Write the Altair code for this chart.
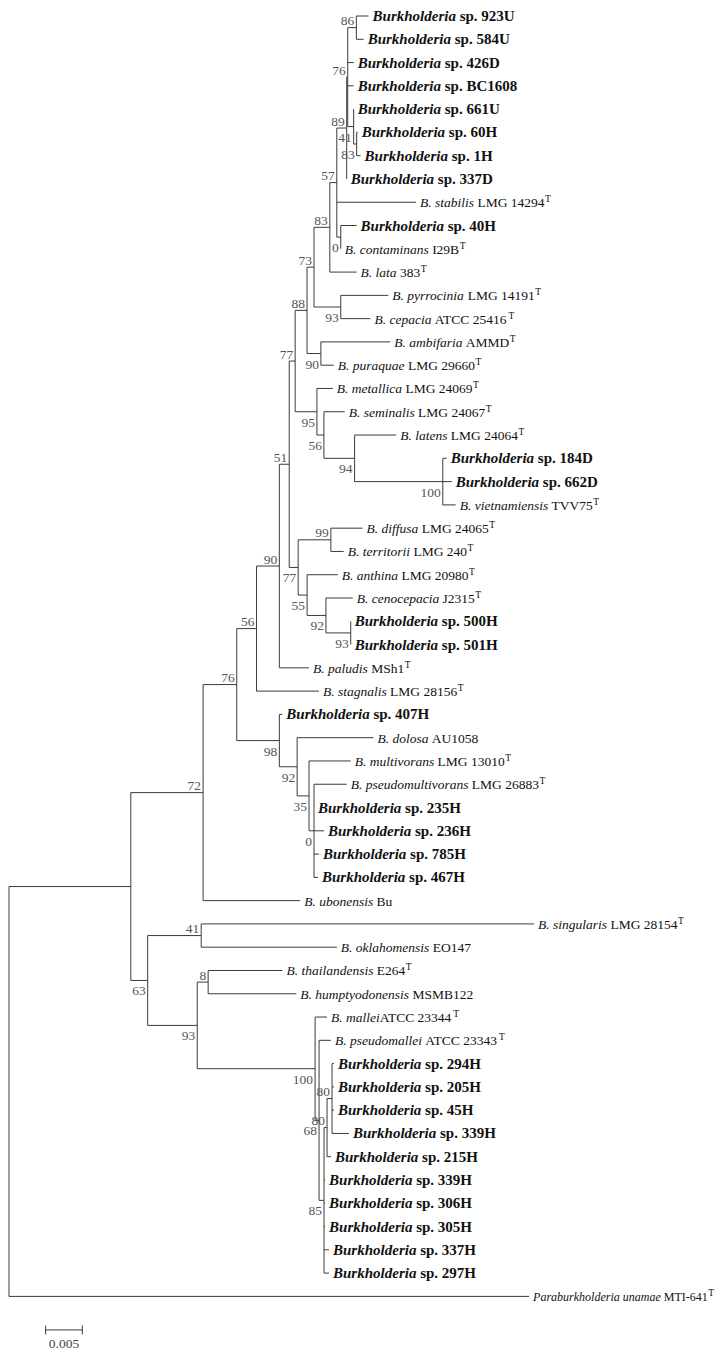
import altair as alt
import pandas as pd

# ------------------------------------------------------------------ data
# leaf labels: italic part, remainder (leading space = word gap), type strain flag
LEAF_ITALIC = [
    "Burkholderia", "Burkholderia", "Burkholderia", "Burkholderia", "Burkholderia",
    "Burkholderia", "Burkholderia", "Burkholderia", "B. stabilis", "Burkholderia",
    "B. contaminans", "B. lata", "B. pyrrocinia", "B. cepacia", "B. ambifaria",
    "B. puraquae", "B. metallica", "B. seminalis", "B. latens", "Burkholderia",
    "Burkholderia", "B. vietnamiensis", "B. diffusa", "B. territorii", "B. anthina",
    "B. cenocepacia", "Burkholderia", "Burkholderia", "B. paludis", "B. stagnalis",
    "Burkholderia", "B. dolosa", "B. multivorans", "B. pseudomultivorans", "Burkholderia",
    "Burkholderia", "Burkholderia", "Burkholderia", "B. ubonensis", "B. singularis",
    "B. oklahomensis", "B. thailandensis", "B. humptyodonensis", "B. mallei", "B. pseudomallei",
    "Burkholderia", "Burkholderia", "Burkholderia", "Burkholderia", "Burkholderia",
    "Burkholderia", "Burkholderia", "Burkholderia", "Burkholderia", "Burkholderia",
    "Paraburkholderia unamae",
]
LEAF_REST = [
    " sp. 923U", " sp. 584U", " sp. 426D", " sp. BC1608", " sp. 661U",
    " sp. 60H", " sp. 1H", " sp. 337D", " LMG 14294", " sp. 40H",
    " I29B", " 383", " LMG 14191", " ATCC 25416", " AMMD",
    " LMG 29660", " LMG 24069", " LMG 24067", " LMG 24064", " sp. 184D",
    " sp. 662D", " TVV75", " LMG 24065", " LMG 240", " LMG 20980",
    " J2315", " sp. 500H", " sp. 501H", " MSh1", " LMG 28156",
    " sp. 407H", " AU1058", " LMG 13010", " LMG 26883", " sp. 235H",
    " sp. 236H", " sp. 785H", " sp. 467H", " Bu", " LMG 28154",
    " EO147", " E264", " MSMB122", "ATCC 23344", " ATCC 23343",
    " sp. 294H", " sp. 205H", " sp. 45H", " sp. 339H", " sp. 215H",
    " sp. 339H", " sp. 306H", " sp. 305H", " sp. 337H", " sp. 297H",
    " MTI-641",
]
LEAF_TYPE_STRAIN = [
    0, 0, 0, 0, 0, 0, 0, 0, 1, 0,
    1, 1, 1, 1, 1, 1, 1, 1, 1, 0,
    0, 1, 1, 1, 1, 1, 0, 0, 1, 1,
    0, 0, 1, 1, 0, 0, 0, 0, 0, 1,
    0, 1, 0, 1, 1, 0, 0, 0, 0, 0,
    0, 0, 0, 0, 0, 1,
]
LEAF_PARENT = [
    "n86", "n86", "n76b", "n76b", "n41", "n83b", "n83b", "n89",
    "n57", "n0a", "n0a", "n83a", "n93a", "n93a", "n90b", "n90b",
    "n95", "n56b", "n94", "n100a", "n100a", "n100a", "n99", "n99",
    "n55", "n92a", "n93b", "n93b", "n90", "n56", "n98", "n92b",
    "n35", "n0b", "n0b", "n0b", "n0b", "n0b", "n72", "n41b",
    "n41b", "n8", "n8", "n100b", "n68", "n80a", "n80a", "n80a",
    "n80a", "n80b", "n85", "n85", "n85", "n85", "n85", "root",
]
LEAF_BRANCH = [
    0.00166, 0.00099, 0.00081, 0.00081, 0.0, 0.00014, 0.00054, 0.0,
    0.01081, 0.00216, 0.0, 0.00365, 0.00649, 0.00405, 0.00946, 0.00176,
    0.00216, 0.00284, 0.00568, 0.00054, 0.00122, 0.00176, 0.00432, 0.00176,
    0.00419, 0.00365, 0.0, 0.0, 0.00405, 0.00851, 0.00041, 0.01041,
    0.00568, 0.00446, 0.0, 0.00135, 0.00068, 0.00054, 0.01324, 0.04541,
    0.01851, 0.01014, 0.01203, 0.00162, 0.00162, 0.00027, 0.00027, 0.00027,
    0.00230, 0.00054, 0.00014, 0.00014, 0.00014, 0.00068, 0.00068, 0.07095,
]

NODE_ID = [
    "root", "A", "n72", "n76", "n56", "n90", "n51", "n77u", "n88", "n73",
    "n83a", "n57", "n89", "n76b", "n86", "n41", "n83b", "n0a", "n93a", "n90b",
    "n95", "n56b", "n94", "n100a", "n77l", "n99", "n55", "n92a", "n93b", "n98",
    "n92b", "n35", "n0b", "n63", "n41b", "n93c", "n8", "n100b", "n68", "n85",
    "n80b", "n80a",
]
NODE_PARENT = [
    "", "root", "A", "n72", "n76", "n56", "n90", "n51", "n77u", "n88",
    "n73", "n83a", "n57", "n89", "n76b", "n76b", "n41", "n57", "n73", "n88",
    "n77u", "n95", "n56b", "n94", "n51", "n77l", "n77l", "n55", "n92a", "n76",
    "n98", "n92b", "n35", "A", "n63", "n63", "n93c", "n93c", "n100b", "n68",
    "n85", "n80b",
]
NODE_BRANCH = [
    0.0, 0.01662, 0.00986, 0.00459, 0.00270, 0.00311, 0.00135, 0.00081, 0.00162, 0.00095,
    0.00216, 0.00095, 0.00135, 0.00014, 0.00118, 0.00081, 0.00041, 0.00054, 0.00365, 0.00189,
    0.00297, 0.00095, 0.00419, 0.01203, 0.00122, 0.00446, 0.00122, 0.00257, 0.00338, 0.00581,
    0.00243, 0.00162, 0.00068, 0.00230, 0.00730, 0.00676, 0.00149, 0.01608, 0.00054, 0.00068,
    0.00041, 0.00068,
]
NODE_SUPPORT = [
    "", "", "72", "76", "56", "90", "51", "77", "88", "73",
    "83", "57", "89", "76", "86", "41", "83", "0", "93", "90",
    "95", "56", "94", "100", "77", "99", "55", "92", "93", "98",
    "92", "35", "0", "63", "41", "93", "8", "100", "68", "85",
    "80", "80",
]

SCALE_BAR = 0.005
SCALE_LABEL = "0.005"

# ------------------------------------------------------------------ layout constants
W, H = 708, 1343
K = 7330.0            # pixels per substitution unit
TOP_PX, ROW_PX = 8.0, 23.28
FONT = "Liberation Serif"
LINE = "#3a3a3a"

# ------------------------------------------------------------------ tree geometry
depth = {}
for nid, par, bl in zip(NODE_ID, NODE_PARENT, NODE_BRANCH):
    depth[nid] = 0.0 if par == "" else depth[par] + bl
leaf_depth = [depth[p] + b for p, b in zip(LEAF_PARENT, LEAF_BRANCH)]

children = {n: [] for n in NODE_ID}
for i, p in enumerate(LEAF_PARENT):
    children[p].append(("leaf", i))
for n, p in zip(NODE_ID, NODE_PARENT):
    if p:
        children[p].append(("node", n))


def span(item):
    kind, key = item
    if kind == "leaf":
        return (key, key)
    s = [span(c) for c in children[key]]
    return (min(a for a, _ in s), max(b for _, b in s))


for n in children:
    children[n].sort(key=lambda it: span(it)[0])

ypos = {}


def y_of(item):
    kind, key = item
    if kind == "leaf":
        return float(key)
    if key not in ypos:
        ch = children[key]
        ypos[key] = (y_of(ch[0]) + y_of(ch[-1])) / 2.0
    return ypos[key]


for n in NODE_ID:
    y_of(("node", n))

segs = []
for n, p in zip(NODE_ID, NODE_PARENT):
    ch = children[n]
    segs.append(dict(x=depth[n], x2=depth[n], y=y_of(ch[0]), y2=y_of(ch[-1])))
    if p:
        segs.append(dict(x=depth[p], x2=depth[n], y=ypos[n], y2=ypos[n]))
for i, p in enumerate(LEAF_PARENT):
    segs.append(dict(x=depth[p], x2=leaf_depth[i], y=float(i), y2=float(i)))
seg_df = pd.DataFrame(segs)

sup = []
for n, p, s in zip(NODE_ID, NODE_PARENT, NODE_SUPPORT):
    if s and p:
        upper = children[p][0] == ("node", n)
        sup.append(dict(x=depth[n], y=ypos[n], t=s, pos="above" if upper else "below"))
sup_df = pd.DataFrame(sup)

# ------------------------------------------------------------------ label pieces
R = {' ': 250, '.': 250, '-': 333, 'A': 722, 'B': 667, 'C': 667, 'D': 722, 'E': 611,
     'G': 722, 'H': 722, 'I': 333, 'J': 389, 'L': 611, 'M': 889, 'O': 722, 'S': 556,
     'T': 611, 'U': 722, 'V': 722, 'h': 500, 'u': 500}
I = {' ': 250, '.': 250, 'B': 611, 'P': 611, 'a': 500, 'b': 500, 'c': 444, 'd': 500,
     'e': 444, 'f': 278, 'g': 500, 'h': 500, 'i': 278, 'j': 278, 'k': 444, 'l': 278,
     'm': 722, 'n': 500, 'o': 500, 'p': 500, 'q': 500, 'r': 389, 's': 389, 't': 278,
     'u': 500, 'v': 444, 'w': 667, 'x': 444, 'y': 444, 'z': 389}
B = {' ': 250, '.': 250, 's': 389, 'p': 556, 'B': 667, 'C': 722, 'D': 722, 'H': 778, 'U': 722}
BI = {'B': 667, 'u': 556, 'r': 389, 'k': 500, 'h': 556, 'o': 500, 'l': 278, 'd': 500,
      'e': 444, 'i': 278, 'a': 500}


def tw(s, table, size):
    return sum(table.get(c, 500) for c in s) * size / 1000.0


parts = []
n_leaf = len(LEAF_ITALIC)
for i in range(n_leaf):
    iso = LEAF_ITALIC[i] == "Burkholderia"
    outgroup = i == n_leaf - 1
    fs = 15.0 if iso else (12.0 if outgroup else 13.5)
    ta, tb = (BI, B) if iso else (I, R)
    sa, sb = ("bi", "b") if iso else ("i", "r")
    px = 4.0
    parts.append(dict(x=leaf_depth[i] + px / K, y=float(i), t=LEAF_ITALIC[i], st=sa, fs=fs))
    px += tw(LEAF_ITALIC[i], ta, fs)
    rest = LEAF_REST[i]
    if rest.startswith(" "):
        px += tw(" ", tb, fs)
    rest = rest.strip()
    parts.append(dict(x=leaf_depth[i] + px / K, y=float(i), t=rest, st=sb, fs=fs))
    px += tw(rest, tb, fs)
    if LEAF_TYPE_STRAIN[i]:
        parts.append(dict(x=leaf_depth[i] + (px + 0.5) / K, y=float(i), t="T", st="sup", fs=9.5))
lab_df = pd.DataFrame(parts)

# ------------------------------------------------------------------ scales
xs = alt.Scale(domain=[-1.0 / K, (W - 1.0) / K], nice=False, zero=False)
y0 = -TOP_PX / ROW_PX
ys = alt.Scale(domain=[y0, y0 + H / ROW_PX], nice=False, zero=False, reverse=True)

X = lambda f: alt.X(f, type="quantitative", scale=xs, axis=None)
Y = lambda f: alt.Y(f, type="quantitative", scale=ys, axis=None)

tree = alt.Chart(seg_df).mark_rule(color=LINE, strokeWidth=1).encode(
    x=X("x"), x2="x2", y=Y("y"), y2="y2")

sup_layers = []
for pos, dy in (("above", -6.5), ("below", 11)):
    sup_layers.append(
        alt.Chart(sup_df).transform_filter(alt.datum.pos == pos)
        .mark_text(align="right", baseline="middle", dx=-2, dy=dy, font=FONT,
                   fontSize=13.5, color="#555555")
        .encode(x=X("x"), y=Y("y"), text="t:N"))

style = {
    "bi": dict(fontStyle="italic", fontWeight="bold", dy=5),
    "b": dict(fontWeight="bold", dy=5),
    "i": dict(fontStyle="italic", dy=5),
    "r": dict(dy=5),
    "sup": dict(dy=0),
}
lab_layers = []
for st, kw in style.items():
    lab_layers.append(
        alt.Chart(lab_df).transform_filter(alt.datum.st == st)
        .mark_text(align="left", baseline="alphabetic", font=FONT, color="#111111", **kw)
        .encode(x=X("x"), y=Y("y"), text="t:N", size=alt.Size("fs:Q", scale=None)))

# scale bar (0.005 substitutions), placed below the last leaf
bar_row = n_leaf - 1 + 1.44
tick = 4.5 / ROW_PX
bar_df = pd.DataFrame([
    dict(x=SCALE_BAR, x2=2 * SCALE_BAR, y=bar_row, y2=bar_row),
    dict(x=SCALE_BAR, x2=SCALE_BAR, y=bar_row - tick, y2=bar_row + tick),
    dict(x=2 * SCALE_BAR, x2=2 * SCALE_BAR, y=bar_row - tick, y2=bar_row + tick),
])
bar = alt.Chart(bar_df).mark_rule(color=LINE, strokeWidth=1).encode(
    x=X("x"), x2="x2", y=Y("y"), y2="y2")
bar_txt = alt.Chart(pd.DataFrame([dict(x=1.5 * SCALE_BAR, y=n_leaf - 1 + 2.03, t=SCALE_LABEL)])).mark_text(
    align="center", baseline="middle", font=FONT, fontSize=13.5, color="#444444"
).encode(x=X("x"), y=Y("y"), text="t:N")

chart = alt.layer(tree, *sup_layers, *lab_layers, bar, bar_txt).properties(
    width=W, height=H, padding=0, autosize=alt.AutoSizeParams(type="none"),
    view=alt.ViewBackground(stroke="transparent", strokeWidth=0),
).configure_view(stroke="transparent", strokeWidth=0).configure(background="white")

chart.save("out.html", embed_options={"renderer": "svg", "actions": False})
